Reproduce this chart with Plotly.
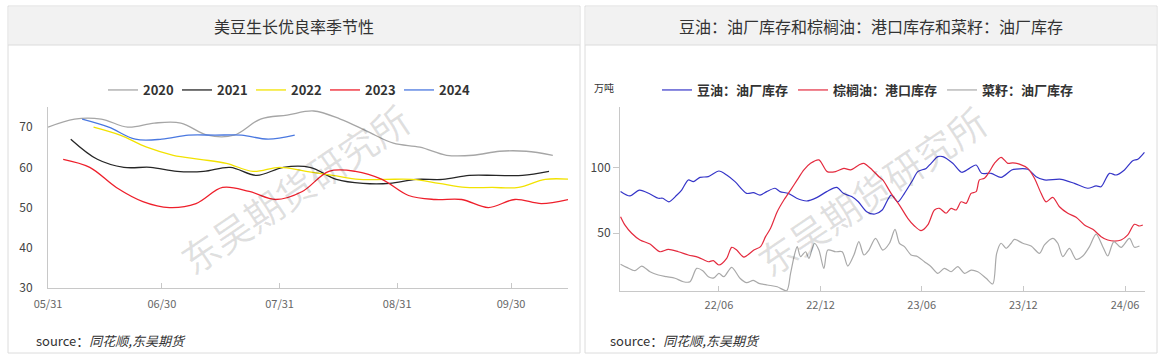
import plotly.graph_objects as go

W, H = 1164, 357

# ---------------- Left chart data (US soybean good/excellent rating, %) ----------------
d2020 = ["05-31", "06-07", "06-14", "06-21", "06-28", "07-05", "07-12", "07-19", "07-26", "08-02",
         "08-09", "08-16", "08-23", "08-30", "09-06", "09-13", "09-20", "09-27", "10-04", "10-11"]
v2020 = [70, 72, 72, 70, 71, 71, 68, 68, 72, 73, 74, 72, 69, 66, 65, 63, 63, 64, 64, 63]

d2021 = ["06-06", "06-13", "06-20", "06-27", "07-04", "07-11", "07-18", "07-25", "08-01", "08-08",
         "08-15", "08-22", "08-29", "09-05", "09-12", "09-19", "09-26", "10-03", "10-10"]
v2021 = [67, 62, 60, 60, 59, 59, 60, 58, 60, 60, 57, 56, 56, 57, 57, 58, 58, 58, 59]

d2022 = ["06-12", "06-19", "06-26", "07-03", "07-10", "07-17", "07-24", "07-31", "08-07", "08-14",
         "08-21", "08-28", "09-04", "09-11", "09-18", "09-25", "10-02", "10-09", "10-16"]
v2022 = [70, 68, 65, 63, 62, 61, 59, 60, 59, 58, 57, 57, 57, 56, 55, 55, 55, 57, 57]

d2023 = ["06-04", "06-11", "06-18", "06-25", "07-02", "07-09", "07-16", "07-23", "07-30", "08-06",
         "08-13", "08-20", "08-27", "09-03", "09-10", "09-17", "09-24", "10-01", "10-08", "10-15"]
v2023 = [62, 60, 55, 51.5, 50, 51, 55, 54, 52, 54, 59, 59, 57, 53, 52, 52, 50, 52, 51, 52]

d2024 = ["06-09", "06-16", "06-23", "06-30", "07-07", "07-14", "07-21", "07-28", "08-04"]
v2024 = [72, 70, 67, 67, 68, 68, 68, 67, 68]

season_names = ["2020", "2021", "2022", "2023", "2024"]
season_colors = ["#a6a6a6", "#262626", "#f2e200", "#ee1f2b", "#4a78e0"]
left_ticks = ["05-31", "06-30", "07-31", "08-31", "09-30"]
left_ticklabels = ["05/31", "06/30", "07/31", "08/31", "09/30"]

# ---------------- Right chart data (万吨) ----------------
blue_dates = ["2021-12-06", "2021-12-23", "2022-01-09", "2022-01-28", "2022-02-12", "2022-02-20", "2022-03-03",
              "2022-03-17", "2022-03-26", "2022-04-07", "2022-04-16", "2022-04-28", "2022-05-13", "2022-06-01",
              "2022-06-15", "2022-06-30", "2022-07-21", "2022-08-02", "2022-08-14", "2022-08-26", "2022-09-10",
              "2022-09-19", "2022-10-04", "2022-10-19", "2022-11-06", "2022-11-24", "2022-12-12", "2022-12-30",
              "2023-01-11", "2023-01-26", "2023-02-07", "2023-02-22", "2023-03-09", "2023-03-22", "2023-04-07",
              "2023-04-19", "2023-05-01", "2023-05-16", "2023-05-25", "2023-06-09", "2023-06-18", "2023-06-30",
              "2023-07-09", "2023-07-27", "2023-08-12", "2023-08-26", "2023-09-07", "2023-09-17", "2023-10-04",
              "2023-10-22", "2023-11-10", "2023-11-18", "2023-12-09", "2023-12-24", "2024-01-08", "2024-02-07",
              "2024-03-02", "2024-03-26", "2024-04-10", "2024-04-19", "2024-05-04", "2024-05-16", "2024-05-31",
              "2024-06-15", "2024-06-24", "2024-07-06"]
blue_vals = [82, 78.5, 83, 80, 76.7, 76.7, 74, 79, 83, 90.8,
             89.5, 92.8, 93.3, 97.7, 94.6, 89.5, 80.5, 81, 79.2, 81.8,
             84.4, 81.8, 80.5, 76.7, 74.6, 77.2, 81.8, 85.1, 80.5, 78,
             74, 66.4, 64.6, 67.7, 79.2, 74, 80.5, 90.8, 97.2, 99.7,
             103.6, 108.7, 108.7, 103.6, 96.7, 99.7, 102.3, 95.9, 95.9, 92.8,
             98.5, 99.2, 99, 93.3, 90.8, 91.3, 88.2, 84.4, 86.2, 85.6,
             95.9, 94.6, 98.5, 105.6, 106.7, 112]

red_dates = ["2021-12-06", "2021-12-14", "2021-12-26", "2022-01-10", "2022-01-28", "2022-02-15", "2022-03-02",
             "2022-03-20", "2022-04-07", "2022-04-25", "2022-05-13", "2022-05-22", "2022-06-01", "2022-06-15",
             "2022-06-24", "2022-07-03", "2022-07-16", "2022-08-03", "2022-08-15", "2022-08-24", "2022-09-02",
             "2022-09-14", "2022-09-26", "2022-10-08", "2022-10-20", "2022-11-01", "2022-11-13", "2022-11-28",
             "2022-12-13", "2022-12-28", "2023-01-12", "2023-01-24", "2023-02-08", "2023-02-17", "2023-03-04",
             "2023-03-16", "2023-03-23", "2023-04-07", "2023-04-22", "2023-05-07", "2023-05-19", "2023-05-31",
             "2023-06-12", "2023-06-24", "2023-07-03", "2023-07-15", "2023-07-24", "2023-08-02", "2023-08-11",
             "2023-08-20", "2023-08-29", "2023-09-07", "2023-09-13", "2023-09-22", "2023-10-01", "2023-10-10",
             "2023-10-22", "2023-11-03", "2023-11-12", "2023-11-24", "2023-12-09", "2023-12-21", "2024-01-02",
             "2024-01-11", "2024-01-23", "2024-02-04", "2024-02-19", "2024-03-05", "2024-03-20", "2024-04-04",
             "2024-04-19", "2024-05-01", "2024-05-13", "2024-05-25", "2024-06-06", "2024-06-18", "2024-06-27",
             "2024-07-03"]
red_vals = [62.5, 56, 49.8, 44.6, 41.5, 35.6, 37.4, 35.6, 33.1, 31.3,
            27.9, 28.7, 25.4, 30.5, 39, 36.9, 31.5, 36.9, 39.5, 47.2,
            53.6, 66.4, 75.4, 83, 90.8, 98.5, 103.6, 106.2, 97.2, 97.2,
            99.7, 98.5, 102.3, 103.6, 98.5, 93.3, 90.8, 80.5, 71.5, 61.3,
            55.4, 51.8, 56.2, 67.7, 69, 65.2, 69, 67.7, 74, 72.8,
            80.5, 81.8, 90.8, 92.1, 97.2, 103.6, 108.2, 103.6, 104, 103,
            99.7, 92.1, 80.5, 74, 77.4, 70.2, 65.2, 62.1, 56.2, 52.8,
            47.2, 44.6, 43.8, 44.6, 48.5, 56.7, 55.4, 56.2]

grey_dates = ["2021-12-06", "2021-12-17", "2022-01-01", "2022-01-13", "2022-01-28", "2022-02-12", "2022-02-27",
              "2022-03-14", "2022-03-29", "2022-04-10", "2022-04-22", "2022-05-03", "2022-05-13", "2022-05-23",
              "2022-06-01", "2022-06-10", "2022-06-24", "2022-07-09", "2022-07-21", "2022-08-02", "2022-08-12",
              "2022-08-27", "2022-09-14", "2022-10-01", "2022-10-08", "2022-10-15", "2022-10-20", "2022-10-26",
              "2022-11-04", "2022-11-10", "2022-11-20", "2022-11-28", "2022-12-07", "2022-12-14", "2022-12-28",
              "2023-01-09", "2023-01-19", "2023-01-30", "2023-02-08", "2023-02-17", "2023-02-26", "2023-03-10",
              "2023-03-23", "2023-04-04", "2023-04-14", "2023-04-22", "2023-05-01", "2023-05-13", "2023-05-25",
              "2023-06-06", "2023-06-18", "2023-06-30", "2023-07-12", "2023-07-24", "2023-08-05", "2023-08-17",
              "2023-08-29", "2023-09-10", "2023-09-25", "2023-10-07", "2023-10-14", "2023-10-22", "2023-10-31",
              "2023-11-09", "2023-11-15", "2023-11-30", "2023-12-15", "2023-12-30", "2024-01-08", "2024-01-23",
              "2024-02-01", "2024-02-10", "2024-02-22", "2024-03-05", "2024-03-17", "2024-03-29", "2024-04-10",
              "2024-04-22", "2024-05-01", "2024-05-12", "2024-05-25", "2024-06-09", "2024-06-18", "2024-06-27"]
grey_vals = [26, 23.6, 21, 24.6, 20.2, 17.7, 16.4, 15.2, 12.5, 12.5,
             22.8, 21, 16.4, 15.5, 19, 16.4, 23.6, 15.2, 11.8, 13.5,
             11.3, 10, 8.7, 5.6, 19, 33.1, 39.5, 31.8, 35.6, 30.5,
             42.1, 36.9, 22.8, 36.9, 35.6, 35.6, 24.6, 33.1, 43.4, 33.1,
             36.9, 45.9, 36.9, 42.1, 52.8, 42.1, 39.5, 33.1, 31.8, 27.9,
             24.1, 19, 22.8, 20.2, 24.1, 19, 21.5, 20.2, 15.2, 10.8,
             34.4, 42.1, 38.2, 42.1, 45.1, 42.1, 40, 34.4, 40.8, 45.9,
             42.1, 31.8, 38.2, 29.7, 32.3, 39.5, 49.2, 39.5, 32.3, 43.4,
             39, 45.9, 39, 40]

right_names = ["豆油：油厂库存", "棕榈油：港口库存", "菜籽：油厂库存"]
right_colors = ["#3535c8", "#e42a3e", "#a9a9a9"]
right_ticks = ["2022-06-01", "2022-12-01", "2023-06-01", "2023-12-01", "2024-06-01"]

FONT = "Noto Sans CJK SC"

# ---------------- helpers for pixel -> paper ----------------
def px(x):
    return x / W

def py(y):
    return (H - y) / H

fig = go.Figure()

# Left traces
YEAR = "2024-"
season_dates = [d2020, d2021, d2022, d2023, d2024]
season_vals = [v2020, v2021, v2022, v2023, v2024]
for name, col, ds, vs in zip(season_names, season_colors, season_dates, season_vals):
    fig.add_trace(go.Scatter(
        x=[YEAR + d for d in ds], y=vs, name=name, mode="lines",
        line=dict(color=col, width=1.3, shape="spline", smoothing=1.0),
        xaxis="x", yaxis="y", legend="legend", hoverinfo="skip"))

# Right traces
for name, col, ds, vs in zip(right_names, right_colors,
                             [blue_dates, red_dates, grey_dates],
                             [blue_vals, red_vals, grey_vals]):
    fig.add_trace(go.Scatter(
        x=ds, y=vs, name=name, mode="lines",
        line=dict(color=col, width=1.2, shape="spline", smoothing=0.8),
        xaxis="x2", yaxis="y2", legend="legend2", hoverinfo="skip"))

axis_common = dict(showgrid=False, zeroline=False, showline=True, linecolor="#c8c8c8", linewidth=1,
                   automargin=False, tickfont=dict(family=FONT, size=11, color="#666666"))

shapes = []
for (x0, x1) in [(8, 580), (585, 1157)]:
    # card
    shapes.append(dict(type="rect", xref="paper", yref="paper", x0=px(x0), x1=px(x1), y0=py(353), y1=py(6),
                       fillcolor="#ffffff", line=dict(color="#dcdcdc", width=1), layer="below"))
    # header band
    shapes.append(dict(type="rect", xref="paper", yref="paper", x0=px(x0 + 1), x1=px(x1 - 1), y0=py(45), y1=py(7),
                       fillcolor="#f2f2f2", line=dict(width=0), layer="below"))
    shapes.append(dict(type="line", xref="paper", yref="paper", x0=px(x0), x1=px(x1), y0=py(45), y1=py(45),
                       line=dict(color="#dcdcdc", width=1), layer="below"))

annotations = [
    dict(text="美豆生长优良率季节性", x=px(294), y=py(26), xref="paper", yref="paper", showarrow=False,
         font=dict(family=FONT, size=16, color="#333333"), xanchor="center", yanchor="middle"),
    dict(text="豆油：油厂库存和棕榈油：港口库存和菜籽：油厂库存", x=px(871), y=py(26), xref="paper", yref="paper",
         showarrow=False, font=dict(family=FONT, size=16, color="#333333"), xanchor="center", yanchor="middle"),
    dict(text="source：<i>同花顺,东吴期货</i>", x=px(34), y=py(340), xref="paper", yref="paper", showarrow=False,
         font=dict(family=FONT, size=13, color="#333333"), xanchor="left", yanchor="middle"),
    dict(text="source：<i>同花顺,东吴期货</i>", x=px(608), y=py(340), xref="paper", yref="paper", showarrow=False,
         font=dict(family=FONT, size=13, color="#333333"), xanchor="left", yanchor="middle"),
    dict(text="万吨", x=px(604), y=py(87), xref="paper", yref="paper", showarrow=False,
         font=dict(family=FONT, size=10, color="#333333"), xanchor="center", yanchor="middle"),
    dict(text="东吴期货研究所", x=px(294), y=py(188), xref="paper", yref="paper", showarrow=False, textangle=-34,
         font=dict(family=FONT, size=38, color="rgba(0,0,0,0.12)"), xanchor="center", yanchor="middle"),
    dict(text="东吴期货研究所", x=px(871), y=py(190), xref="paper", yref="paper", showarrow=False, textangle=-34,
         font=dict(family=FONT, size=38, color="rgba(0,0,0,0.12)"), xanchor="center", yanchor="middle"),
]

legend_font = dict(family=FONT, size=13, color="#333333", weight="bold")

fig.update_layout(
    template="none",
    width=W, height=H,
    margin=dict(l=0, r=0, t=0, b=0, autoexpand=False),
    paper_bgcolor="#ffffff", plot_bgcolor="rgba(0,0,0,0)",
    font=dict(family=FONT),
    showlegend=True,
    xaxis=dict(domain=[px(48), px(568)], anchor="y", type="date",
               range=["2024-05-31", "2024-10-15"],
               tickvals=[YEAR + t for t in left_ticks], ticktext=left_ticklabels,
               ticks="inside", ticklen=5, tickcolor="#c8c8c8", ticklabelstandoff=6, **axis_common),
    yaxis=dict(domain=[py(288), py(107)], anchor="x", range=[30, 75],
               tickvals=[30, 40, 50, 60, 70], ticks="", ticklabelstandoff=12, **{**axis_common,
               "tickfont": dict(family=FONT, size=12, color="#444444")}),
    xaxis2=dict(domain=[px(620), px(1145)], anchor="y2", type="date",
                range=["2021-12-05", "2024-07-07"],
                tickvals=right_ticks, tickformat="%y/%m",
                ticks="inside", ticklen=5, tickcolor="#c8c8c8", ticklabelstandoff=4, **axis_common),
    yaxis2=dict(domain=[py(291), py(107)], anchor="x2", range=[5.4, 146.9],
                tickvals=[50, 100], ticks="outside", ticklen=6, tickcolor="#c8c8c8",
                **{**axis_common, "tickfont": dict(family=FONT, size=12, color="#444444")}),
    legend=dict(orientation="h", x=px(288), xanchor="center", y=py(90), yanchor="middle",
                font=legend_font, bgcolor="rgba(0,0,0,0)", itemwidth=30, entrywidth=29),
    legend2=dict(orientation="h", x=px(868), xanchor="center", y=py(90), yanchor="middle",
                 font=legend_font, bgcolor="rgba(0,0,0,0)", itemwidth=30),
    shapes=shapes,
    annotations=annotations,
)

fig.write_html("out.html", config={"displayModeBar": False},
               post_script="document.body.style.margin='0';document.body.style.overflow='hidden';")
